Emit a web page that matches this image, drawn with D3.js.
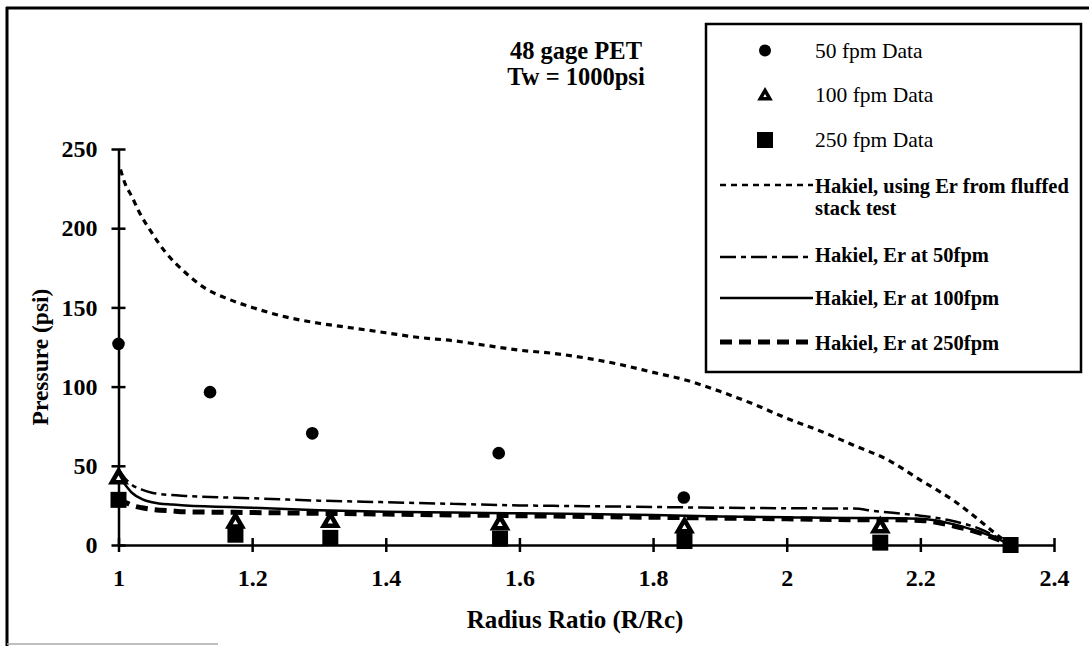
<!DOCTYPE html>
<html>
<head>
<meta charset="utf-8">
<script src="https://cdn.jsdelivr.net/npm/d3@7"></script>
<style>
  html, body { margin: 0; padding: 0; background: #fff; }
  svg { display: block; }
  text { font-family: "Liberation Serif", "Times New Roman", serif; fill: #000; }
</style>
</head>
<body>
<svg id="chart" width="1089" height="646"></svg>
<script>
// Measured pressure data (psi) vs radius ratio R/Rc
const x50 = [1.0, 1.137, 1.29, 1.569, 1.846];
const p50 = [127, 96.5, 70.5, 58, 30];

const x100 = [1.0, 1.175, 1.317, 1.571, 1.847, 2.14];
const p100 = [42, 14, 14.5, 13, 11, 11];

const x250 = [1.0, 1.175, 1.317, 1.571, 1.847, 2.14, 2.335];
const p250 = [28.5, 6.5, 4.5, 4, 2.5, 1.5, 0];

// Hakiel model, Er from fluffed stack test
const rFluff = [1.003, 1.01, 1.02, 1.03, 1.05, 1.07, 1.1, 1.13, 1.16, 1.2, 1.25, 1.3, 1.35, 1.4, 1.45, 1.5,
  1.55, 1.6, 1.65, 1.7, 1.75, 1.8, 1.85, 1.9, 1.95, 2.0, 2.05, 2.1, 2.15, 2.2, 2.25, 2.29, 2.31, 2.335];
const pFluff = [237, 228, 220, 211, 197, 185, 172, 162, 156, 150, 144, 140, 137, 134, 131, 129,
  126, 123, 121, 118, 114, 109, 104, 97, 89, 80, 72, 63, 54, 41, 28, 15, 8, 0];

// Hakiel model with Er measured at each winding speed
const rHak = [1.0, 1.01, 1.02, 1.035, 1.05, 1.08, 1.1, 1.2, 1.3, 1.4, 1.5, 1.6, 1.7, 1.8, 1.9, 2.0,
  2.1, 2.13, 2.2, 2.25, 2.29, 2.31, 2.335];
const pHak50  = [48, 42, 38, 35, 33, 31.5, 31, 29.5, 28, 27, 26, 25, 24.5, 24, 23.5, 23.2, 23, 21.5, 18.5, 15, 10, 6, 0];
const pHak100 = [44, 38, 33, 29, 27, 25.5, 25, 23.5, 22, 21, 20.5, 20, 19.5, 19, 18, 17.5, 17, 17, 16.5, 13, 8, 5, 0];
const pHak250 = [29, 27, 25, 23.5, 22.5, 21.5, 21, 20.5, 20, 19.5, 19, 18.5, 18, 17.5, 17, 16.5, 16, 16, 15.5, 12, 7.5, 4.5, 0];

const xTicks = [1, 1.2, 1.4, 1.6, 1.8, 2, 2.2, 2.4];
const yTicks = [0, 50, 100, 150, 200, 250];

const titleLines = ["48 gage PET", "Tw = 1000psi"];
const legendLabels = ["50 fpm Data", "100 fpm Data", "250 fpm Data",
  ["Hakiel, using Er from fluffed", "stack test"],
  "Hakiel, Er at 50fpm", "Hakiel, Er at 100fpm", "Hakiel, Er at 250fpm"];

const svg = d3.select("#chart");

// outer frame
svg.append("line").attr("x1", 6).attr("x2", 1089).attr("y1", 8).attr("y2", 8)
  .attr("stroke", "#000").attr("stroke-width", 3);
svg.append("line").attr("x1", 7).attr("x2", 7).attr("y1", 7).attr("y2", 646)
  .attr("stroke", "#000").attr("stroke-width", 3);
svg.append("line").attr("x1", 7).attr("x2", 218).attr("y1", 644).attr("y2", 644)
  .attr("stroke", "#aaa").attr("stroke-width", 1.5);

const x = d3.scaleLinear().domain([1, 2.4]).range([118.5, 1054]);
const y = d3.scaleLinear().domain([0, 250]).range([545, 149]);

// axes with ticks crossing the axis line
const gx = svg.append("g").attr("transform", `translate(0,${y(0)})`)
  .call(d3.axisBottom(x).tickValues(xTicks).tickFormat(d3.format("")).tickSizeInner(7).tickSizeOuter(0).tickPadding(17));
gx.selectAll(".tick line").attr("y1", -7);
const gy = svg.append("g").attr("transform", `translate(${x(1)},0)`)
  .call(d3.axisLeft(y).tickValues(yTicks).tickSizeInner(7).tickSizeOuter(0).tickPadding(14));
gy.selectAll(".tick line").attr("x1", 7);

[gx, gy].forEach(g => {
  g.select(".domain").attr("stroke", "#000").attr("stroke-width", 2.5);
  g.selectAll(".tick line").attr("stroke", "#000").attr("stroke-width", 2.5);
  g.selectAll(".tick text").attr("font-size", 24).attr("font-weight", "bold")
    .style("font-family", "'Liberation Serif', serif").attr("fill", "#000");
});

// axis titles
svg.append("text").attr("x", 575).attr("y", 628).attr("text-anchor", "middle")
  .attr("font-size", 25).attr("font-weight", "bold").text("Radius Ratio (R/Rc)");
svg.append("text").attr("transform", "translate(48,357) rotate(-90)").attr("text-anchor", "middle")
  .attr("font-size", 23.5).attr("font-weight", "bold").text("Pressure (psi)");

// chart title
titleLines.forEach((t, i) => {
  svg.append("text").attr("x", 576).attr("y", 59 + i * 26).attr("text-anchor", "middle")
    .attr("font-size", 24.5).attr("font-weight", "bold").text(t);
});

// model curves
const curveStyles = [
  { r: rFluff, p: pFluff, width: 3.2, dash: "6,5" },
  { r: rHak, p: pHak50, width: 2.5, dash: "16,5,5,5" },
  { r: rHak, p: pHak100, width: 2.5, dash: null },
  { r: rHak, p: pHak250, width: 5, dash: "12,7" }
];
const line = d3.line().x(d => x(d[0])).y(d => y(d[1])).curve(d3.curveMonotoneX);
curveStyles.forEach(s => {
  svg.append("path").datum(d3.zip(s.r, s.p)).attr("d", line)
    .attr("fill", "none").attr("stroke", "#000").attr("stroke-width", s.width)
    .attr("stroke-dasharray", s.dash);
});

// data markers
svg.append("g").selectAll("path").data(d3.zip(x250, p250)).join("path")
  .attr("transform", d => `translate(${x(d[0])},${y(d[1])})`)
  .attr("d", d3.symbol(d3.symbolSquare, 256)).attr("fill", "#000");
svg.append("g").selectAll("path").data(d3.zip(x100, p100)).join("path")
  .attr("transform", d => `translate(${x(d[0])},${y(d[1])})`)
  .attr("d", d3.symbol(d3.symbolTriangle, 75)).attr("fill", "#fff")
  .attr("stroke", "#000").attr("stroke-width", 4.5).attr("stroke-linejoin", "miter");
svg.append("g").selectAll("circle").data(d3.zip(x50, p50)).join("circle")
  .attr("cx", d => x(d[0])).attr("cy", d => y(d[1])).attr("r", 6.3).attr("fill", "#000");

// legend
const lg = svg.append("g");
lg.append("rect").attr("x", 706).attr("y", 24).attr("width", 375).attr("height", 348)
  .attr("fill", "#fff").attr("stroke", "#000").attr("stroke-width", 2.5);

const mx = 765, tx = 815;
lg.append("circle").attr("cx", mx).attr("cy", 50.5).attr("r", 6).attr("fill", "#000");
lg.append("path").attr("transform", `translate(${mx},96)`).attr("d", d3.symbol(d3.symbolTriangle, 40))
  .attr("fill", "#fff").attr("stroke", "#000").attr("stroke-width", 3.5).attr("stroke-linejoin", "miter");
lg.append("path").attr("transform", `translate(${mx},140)`).attr("d", d3.symbol(d3.symbolSquare, 256))
  .attr("fill", "#000");

const markerRows = [57.5, 102, 147];
markerRows.forEach((by, i) => {
  lg.append("text").attr("x", tx).attr("y", by).attr("font-size", 21.5)
    .text(legendLabels[i]);
});

const lineRows = [185, 257, 298, 342];
const lineText = [193, 262, 305, 350];
lineRows.forEach((ly, i) => {
  const s = curveStyles[i];
  lg.append("line").attr("x1", 720).attr("x2", 813).attr("y1", ly).attr("y2", ly)
    .attr("stroke", "#000").attr("stroke-width", s.width === 5 ? 5 : 2.5)
    .attr("stroke-dasharray", s.dash);
  const lab = legendLabels[i + 3];
  const lines = Array.isArray(lab) ? lab : [lab];
  lines.forEach((t, j) => {
    lg.append("text").attr("x", tx).attr("y", lineText[i] + j * 22).attr("font-size", 20.5)
      .attr("font-weight", "bold").text(t);
  });
});
</script>
</body>
</html>
